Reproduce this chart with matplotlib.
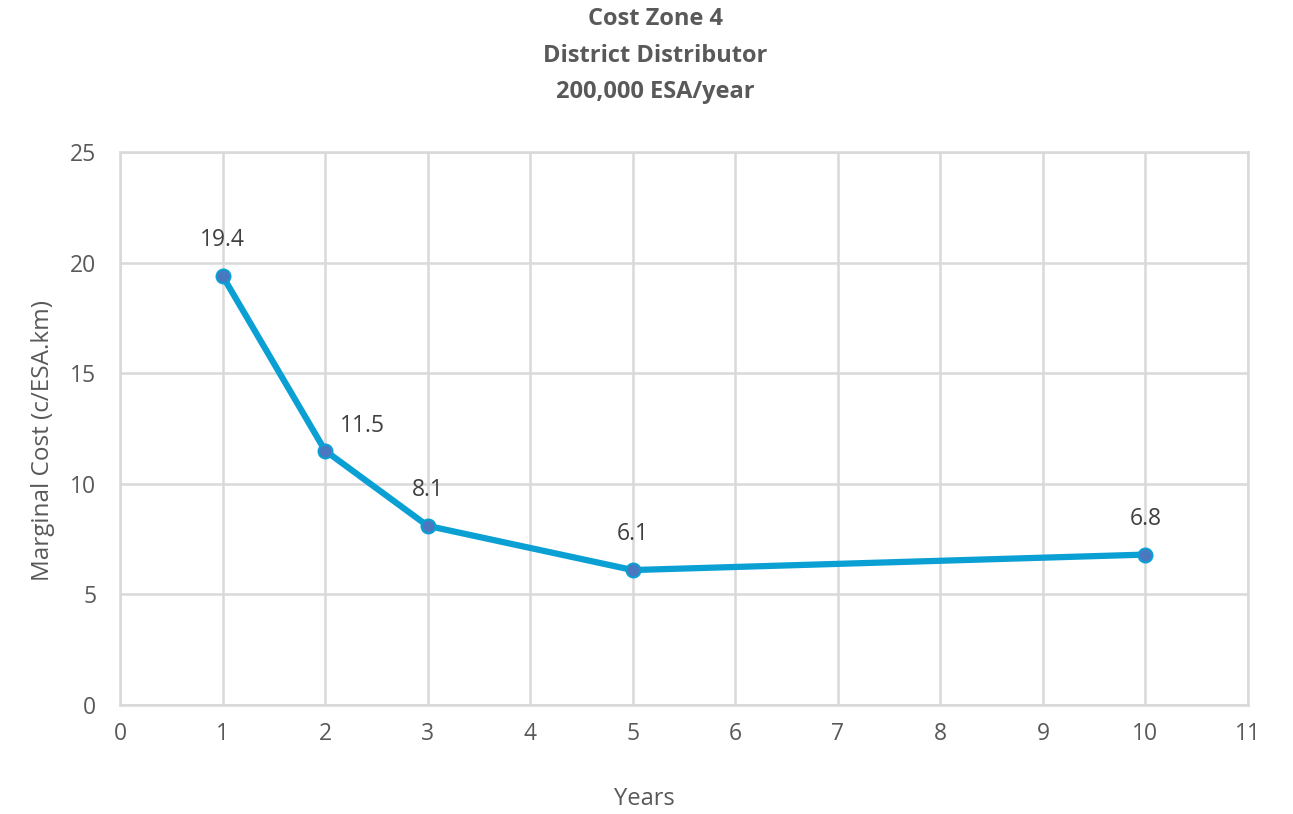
import matplotlib
matplotlib.use("Agg")
import matplotlib.pyplot as plt

years = [1, 2, 3, 5, 10]
marginal_cost = [19.4, 11.5, 8.1, 6.1, 6.8]
label_text = ["19.4", "11.5", "8.1", "6.1", "6.8"]
x_ticks = [0, 1, 2, 3, 4, 5, 6, 7, 8, 9, 10, 11]
y_ticks = [0, 5, 10, 15, 20, 25]

plt.rcParams["font.family"] = ["Open Sans", "DejaVu Sans"]
text_color = "#595959"
grid_color = "#d9d9d9"

fig = plt.figure(figsize=(12.93, 8.14), dpi=100)
ax = fig.add_axes([0.0928, 0.1339, 0.8724, 0.6794])

ax.plot(years, marginal_cost, color="#0aa0d4", linewidth=4.5,
        marker="o", markersize=10, markerfacecolor="#4a78c0",
        markeredgecolor="#0aa0d4", markeredgewidth=1.5, zorder=3,
        solid_joinstyle="round")

# value labels (second point sits to the right of its marker)
offsets = [(0, 17), (27, 9), (0, 17), (0, 17), (0, 17)]
for x, y, txt, off in zip(years, marginal_cost, label_text, offsets):
    ax.annotate(txt, (x, y), xytext=off, textcoords="offset points",
                ha="center", va="bottom", fontsize=16.5, color="#404040")

ax.set_xlim(0, 11)
ax.set_ylim(0, 25)
ax.set_xticks(x_ticks)
ax.set_yticks(y_ticks)
ax.tick_params(length=0, labelsize=16.5, labelcolor=text_color)
ax.tick_params(axis="y", pad=17)
ax.tick_params(axis="x", pad=12)
ax.grid(True, color=grid_color, linewidth=1.8)
ax.set_axisbelow(True)
for s in ax.spines.values():
    s.set_color(grid_color)
    s.set_linewidth(1.8)

ax.set_xlabel("Years", fontsize=17, color=text_color)
ax.xaxis.set_label_coords(0.4645, -0.148)
ax.set_ylabel("Marginal Cost (c/ESA.km)", fontsize=17.5, color=text_color)
ax.yaxis.set_label_coords(-0.058, 0.478)

fig.text(0.5066, 0.991, "Cost Zone 4\nDistrict Distributor\n200,000 ESA/year",
         ha="center", va="top", fontsize=17, fontweight="bold",
         color=text_color, linespacing=1.68)

fig.savefig("out.png", dpi=100)
